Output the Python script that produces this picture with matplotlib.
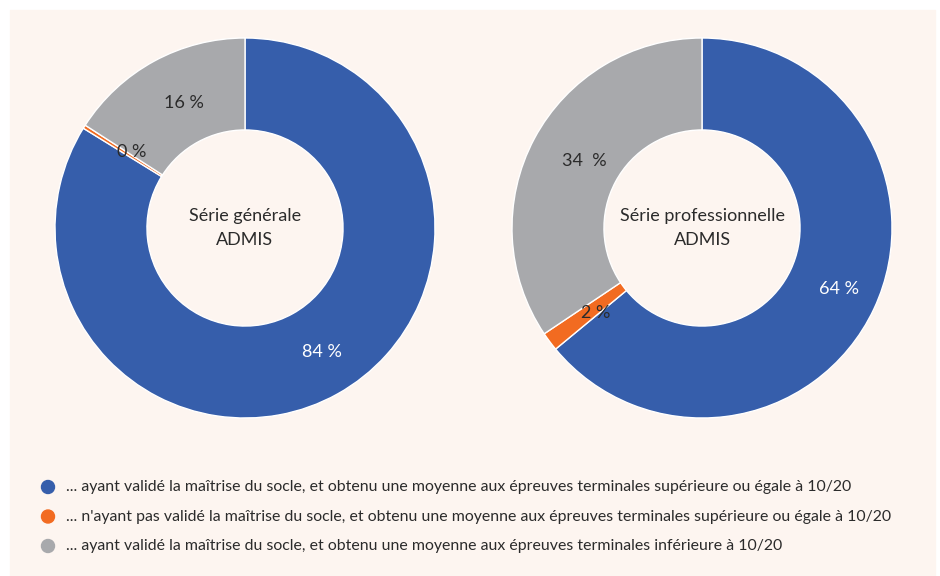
import matplotlib.pyplot as plt
import numpy as np
from matplotlib.patches import Rectangle, Ellipse

plt.rcParams['font.family'] = ['Lato', 'DejaVu Sans']

# données (en %)
generale = [83.8, 0.3, 15.9]
generale_lbl = ['84 %', '0 %', '16 %']
pro = [64.0, 1.6, 34.4]
pro_lbl = ['64 %', '2 %', '34  %']
titres = ['Série générale\nADMIS', 'Série professionnelle\nADMIS']
legende = [
    "... ayant validé la maîtrise du socle, et obtenu une moyenne aux épreuves terminales supérieure ou égale à 10/20",
    "... n'ayant pas validé la maîtrise du socle, et obtenu une moyenne aux épreuves terminales supérieure ou égale à 10/20",
    "... ayant validé la maîtrise du socle, et obtenu une moyenne aux épreuves terminales inférieure à 10/20",
]
couleurs = ['#365eab', '#f26b21', '#a8a9ac']
txt_coul = ['white', '#2b2b2b', '#2b2b2b']
fond = '#fdf5f0'

W, H = 940, 576
fig = plt.figure(figsize=(W / 100, H / 100), dpi=100)
fig.patches.append(Rectangle((10 / W, 0), 925 / W, 1 - 10 / H,
                             transform=fig.transFigure, color=fond, zorder=-5))

R = 190
for cx, vals, lbls, titre in [(245, generale, generale_lbl, titres[0]),
                              (702, pro, pro_lbl, titres[1])]:
    ax = fig.add_axes([(cx - R) / W, 1 - (228 + R) / H, 2 * R / W, 2 * R / H])
    ax.pie(vals, colors=couleurs, startangle=90, counterclock=False, radius=1,
           wedgeprops=dict(width=0.484, edgecolor='white', linewidth=1))
    # étiquettes au milieu de l'anneau (légèrement décalées à droite comme l'original)
    debut = 90.0
    for v, l, c in zip(vals, lbls, txt_coul):
        mid = np.deg2rad(debut - v * 3.6 / 2)
        debut -= v * 3.6
        ax.text(0.75 * np.cos(mid) + 0.04, 0.75 * np.sin(mid), l, ha='center', va='center',
                fontsize=13, color=c)
    ax.text(0, 0, titre, ha='center', va='center', fontsize=13, color='#2b2b2b',
            linespacing=1.6)
    ax.set_xlim(-1, 1)
    ax.set_ylim(-1, 1)
    ax.set_aspect('equal')
    ax.axis('off')

# légende
for i, (t, c) in enumerate(zip(legende, couleurs)):
    yp = 487 + i * 29.5
    fig.patches.append(Ellipse((48 / W, 1 - yp / H), 13 / W, 13 / H, color=c,
                               transform=fig.transFigure))
    fig.text(66 / W, 1 - yp / H, t, color='#2b2b2b', fontsize=11.4, ha='left', va='center')

fig.savefig('out.png', dpi=100, facecolor='white')
